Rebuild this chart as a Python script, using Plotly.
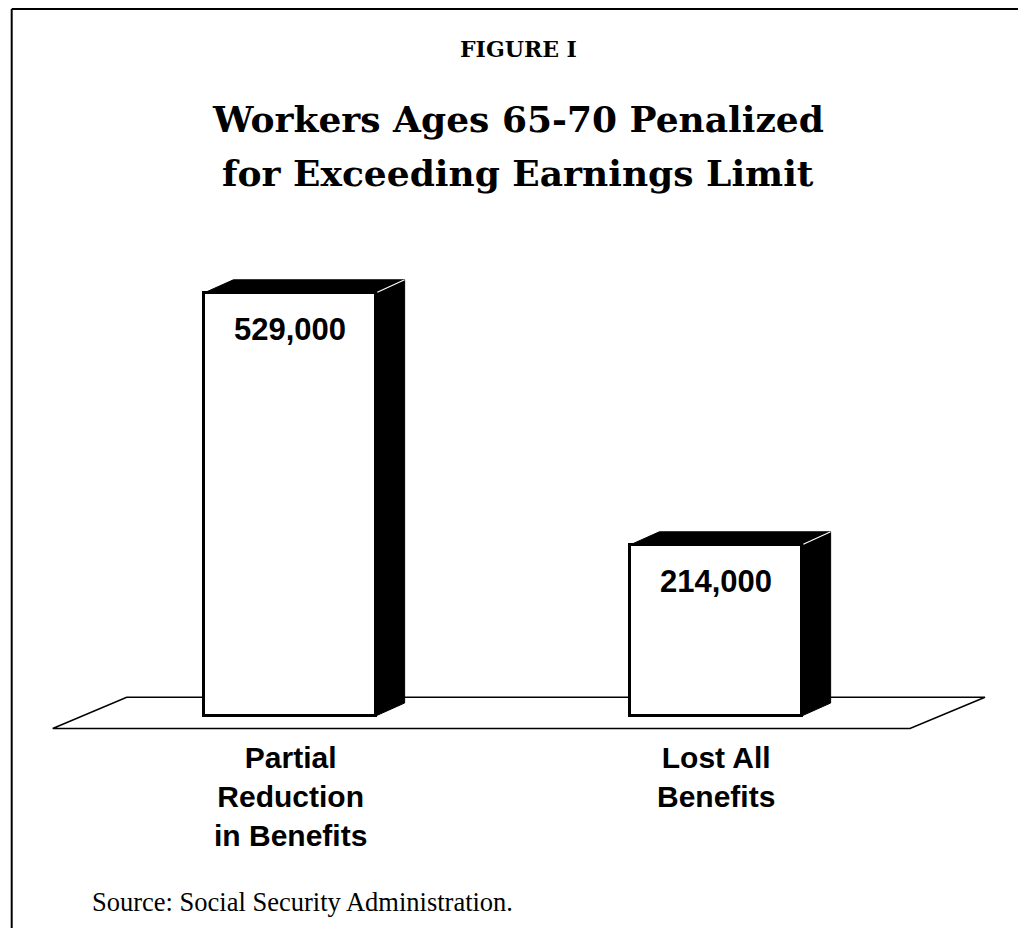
import plotly.graph_objects as go

# ---------------- data ----------------
categories = ["Partial<br>Reduction<br>in Benefits", "Lost All<br>Benefits"]
values = [529000, 214000]
value_labels = ["529,000", "214,000"]
figure_label = "FIGURE I"
title_lines = ["Workers Ages 65-70 Penalized", "for Exceeding Earnings Limit"]
source_text = "Source: Social Security Administration."

# ---------------- geometry (figure pixels) ----------------
W, H = 1016, 920
X0_PX, X_STEP_PX = 282.0, 426.0     # pixel of category 0, pixels per category
Y0_PX, PX_PER_UNIT = 708.0, 0.0008  # pixel of value 0, pixels per person

x_range = [-X0_PX / X_STEP_PX, (W - X0_PX) / X_STEP_PX]
y_range = [-(H - Y0_PX) / PX_PER_UNIT, Y0_PX / PX_PER_UNIT]

BAR_W = 0.402
DX = 29 / X_STEP_PX
DY = 13 / PX_PER_UNIT


def dx_px(px):
    return (px - X0_PX) / X_STEP_PX


def dy_px(py):
    return (Y0_PX - py) / PX_PER_UNIT


def py_paper(py):
    return 1 - py / H


def px_paper(px):
    return px / W


xs = list(range(len(values)))

fig = go.Figure()
fig.add_trace(go.Bar(
    x=xs, y=values, width=BAR_W,
    marker=dict(color="white", line=dict(color="black", width=3)),
    hoverinfo="skip", showlegend=False,
))

shapes = []
# floor parallelogram
fl_front, fl_back = dy_px(720.5), dy_px(689.3)
path = (f"M {dx_px(44.7)},{fl_front} L {dx_px(118.7)},{fl_back} "
        f"L {dx_px(977)},{fl_back} L {dx_px(902)},{fl_front} Z")
shapes.append(dict(type="path", path=path, xref="x", yref="y", layer="below",
                   fillcolor="white", line=dict(color="black", width=1.5)))

for i, v in zip(xs, values):
    xl, xr = i - BAR_W / 2, i + BAR_W / 2
    top = (f"M {xl},{v} L {xl + DX},{v + DY} L {xr + DX},{v + DY} L {xr},{v} Z")
    side = (f"M {xr},{v} L {xr + DX},{v + DY} L {xr + DX},{DY} L {xr},0 Z")
    for p in (top, side):
        shapes.append(dict(type="path", path=p, xref="x", yref="y", layer="below",
                           fillcolor="black", line=dict(color="black", width=1)))
    shapes.append(dict(type="line", x0=xr + 0.004, y0=v + 600, x1=xr + DX, y1=v + DY,
                       xref="x", yref="y", layer="below",
                       line=dict(color="white", width=1.2)))

# frame around the page (left, top, right)
for (x0, y0, x1, y1) in [(3.7, 1, 3.7, H + 5), (3.7, 1, W - 0.5, 1), (W - 0.5, 1, W - 0.5, H + 5)]:
    shapes.append(dict(type="line", xref="paper", yref="paper",
                       x0=px_paper(x0), y0=py_paper(y0), x1=px_paper(x1), y1=py_paper(y1),
                       line=dict(color="black", width=2)))

annotations = []
# figure label
annotations.append(dict(text=figure_label, xref="paper", yref="paper",
                        x=px_paper(510), y=py_paper(41), xanchor="center", yanchor="middle",
                        showarrow=False,
                        font=dict(family="DejaVu Serif", size=22, color="black", weight="bold")))
# title lines
for k, (line, cy) in enumerate(zip(title_lines, [111, 165])):
    annotations.append(dict(text=line, xref="paper", yref="paper",
                            x=px_paper(510), y=py_paper(cy), xanchor="center", yanchor="middle",
                            showarrow=False,
                            font=dict(family="DejaVu Serif", size=36, color="black", weight="bold")))
# value labels
for i, v, lab in zip(xs, values, value_labels):
    annotations.append(dict(text=lab, x=i, y=v, xref="x", yref="y", yanchor="top",
                            yshift=-17, showarrow=False,
                            font=dict(family="Liberation Sans", size=31, color="black", weight="bold")))
# category labels
for i, c in zip(xs, categories):
    annotations.append(dict(text=c, x=i, y=0, xref="x", yref="y", yanchor="top",
                            yshift=-23, showarrow=False,
                            font=dict(family="Liberation Sans", size=30, color="black", weight="bold")))
# source
annotations.append(dict(text=source_text, xref="paper", yref="paper",
                        x=px_paper(82), y=py_paper(894), xanchor="left", yanchor="middle",
                        showarrow=False,
                        font=dict(family="Liberation Serif", size=26.5, color="black")))

fig.update_layout(
    width=W, height=H,
    margin=dict(l=0, r=0, t=0, b=0),
    paper_bgcolor="white", plot_bgcolor="white",
    xaxis=dict(range=x_range, visible=False, fixedrange=True),
    yaxis=dict(range=y_range, visible=False, fixedrange=True),
    shapes=shapes, annotations=annotations,
    showlegend=False, bargap=0,
)

fig.write_html("out.html")
